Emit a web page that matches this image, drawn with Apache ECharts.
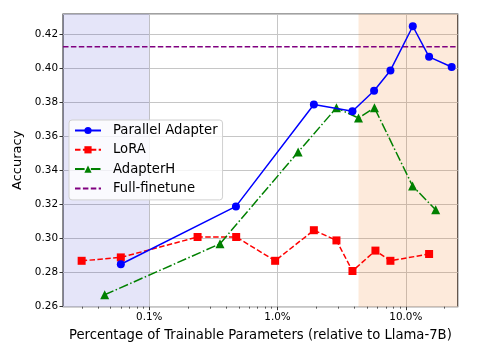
<!DOCTYPE html>
<html>
<head>
<meta charset="utf-8">
<script src="https://cdn.jsdelivr.net/npm/echarts@6/dist/echarts.min.js"></script>
<style>html,body{margin:0;padding:0;background:#fff}#c{width:491px;height:353px}</style>
</head>
<body>
<div id="c"></div>
<script>
// ---- data ----
const parallelX = [0.06, 0.474, 1.92, 3.84, 5.66, 7.59, 11.34, 15.2, 22.8];
const parallelY = [0.285, 0.319, 0.379, 0.375, 0.387, 0.399, 0.425, 0.407, 0.401];
const loraX = [0.0297, 0.06, 0.238, 0.476, 0.958, 1.92, 2.88, 3.84, 5.8, 7.59, 15.2];
const loraY = [0.287, 0.289, 0.301, 0.301, 0.287, 0.305, 0.299, 0.281, 0.293, 0.287, 0.291];
const adapterHX = [0.0449, 0.356, 1.447, 2.88, 4.28, 5.7, 11.3, 17.1];
const adapterHY = [0.267, 0.297, 0.351, 0.377, 0.371, 0.377, 0.331, 0.317];
const fullFinetune = 0.413;
const shadeLow = [0.02125, 0.1];
const shadeHigh = [4.28, 25.4];
const xMajorTicks = [0.1, 1, 10];
const xMinorTicks = [0.03,0.04,0.05,0.06,0.07,0.08,0.09,0.2,0.3,0.4,0.5,0.6,0.7,0.8,0.9,2,3,4,5,6,7,8,9,20];
const xMin = 0.02125, xMax = 25.4;
const yMin = 0.26, yMax = 0.4322, yStep = 0.02;

const zip = (xs, ys) => xs.map((x, i) => [x, ys[i]]);
const font = 'DejaVu Sans';
const chart = echarts.init(document.getElementById('c'), null, {renderer: 'canvas'});
chart.setOption({
  animation: false,
  backgroundColor: '#fff',
  grid: {left: 63, top: 14, right: 33.3, bottom: 46.3, show: true, borderColor: '#444', borderWidth: 1.2, backgroundColor: 'transparent'},
  xAxis: [{
    type: 'log', logBase: 10, min: xMin, max: xMax,
    name: 'Percentage of Trainable Parameters (relative to Llama-7B)',
    nameLocation: 'middle', nameGap: 22,
    nameTextStyle: {fontFamily: font, fontSize: 13.2, color: '#000'},
    axisLine: {show: false},
    axisTick: {show: true, length: 3.5, inside: false, customValues: xMajorTicks, lineStyle: {color: '#333', width: 1}},
    axisLabel: {customValues: xMajorTicks, fontFamily: font, fontSize: 10.4, color: '#000', margin: 6,
      formatter: v => Number(v).toFixed(1) + '%'},
    splitLine: {show: true, lineStyle: {color: '#c6c6c6', width: 1}},
    minorTick: {show: false}
  }, {
    type: 'log', logBase: 10, min: xMin, max: xMax, position: 'bottom',
    axisLine: {show: false},
    axisTick: {show: true, length: 2, customValues: xMinorTicks, lineStyle: {color: '#333', width: 0.8}},
    axisLabel: {show: false},
    splitLine: {show: false}
  }],
  yAxis: {
    type: 'value', min: yMin, max: yMax, interval: yStep,
    name: 'Accuracy', nameLocation: 'middle', nameGap: 35,
    nameTextStyle: {fontFamily: font, fontSize: 13, color: '#000'},
    axisLine: {show: false},
    axisTick: {show: true, length: 3.5, lineStyle: {color: '#333'}},
    axisLabel: {fontFamily: font, fontSize: 10.4, color: '#000', margin: 5, showMaxLabel: false,
      formatter: v => Number(v).toFixed(2)},
    splitLine: {show: true, lineStyle: {color: '#c6c6c6', width: 1}}
  },
  legend: {
    orient: 'vertical', left: 69, top: 120,
    data: ['Parallel Adapter', 'LoRA', 'AdapterH', {name: 'Full-finetune', itemStyle: {opacity: 0}}],
    backgroundColor: 'rgba(255,255,255,0.8)', borderColor: '#d0d0d0', borderWidth: 1, borderRadius: 3,
    padding: [4, 5, 5, 5], itemWidth: 26, itemHeight: 9, itemGap: 6.3,
    textStyle: {fontFamily: font, fontSize: 13.2, color: '#000', padding: [0, 0, 0, 7]}
  },
  series: [
    {
      name: 'shade', type: 'line', data: [], z: 0, silent: true,
      markArea: {silent: true, data: [
        [{xAxis: shadeLow[0], itemStyle: {color: 'rgba(0,0,200,0.1)'}}, {xAxis: shadeLow[1]}],
        [{xAxis: shadeHigh[0], itemStyle: {color: 'rgba(242,115,15,0.15)'}}, {xAxis: shadeHigh[1]}]
      ]}
    },
    {
      name: 'Full-finetune', type: 'line', z: 2, symbol: 'none', showSymbol: false, color: '#800080',
      data: [[xMin, fullFinetune], [xMax, fullFinetune]],
      lineStyle: {color: '#800080', width: 1.5, type: [5.5, 2.4]}
    },
    {
      name: 'Parallel Adapter', type: 'line', data: zip(parallelX, parallelY), z: 4,
      symbol: 'circle', symbolSize: 8, color: '#0000ff',
      lineStyle: {color: '#0000ff', width: 1.5}, itemStyle: {color: '#0000ff'}
    },
    {
      name: 'LoRA', type: 'line', data: zip(loraX, loraY), z: 3,
      symbol: 'rect', symbolSize: 8, color: '#ff0000',
      lineStyle: {color: '#ff0000', width: 1.5, type: [5.5, 2.4]}, itemStyle: {color: '#ff0000'}
    },
    {
      name: 'AdapterH', type: 'line', data: zip(adapterHX, adapterHY), z: 3,
      symbol: 'triangle', symbolSize: 9, color: '#008000',
      lineStyle: {color: '#008000', width: 1.5, type: [9.6, 2.4, 1.5, 2.4]}, itemStyle: {color: '#008000'}
    }
  ]
});
</script>
</body>
</html>
